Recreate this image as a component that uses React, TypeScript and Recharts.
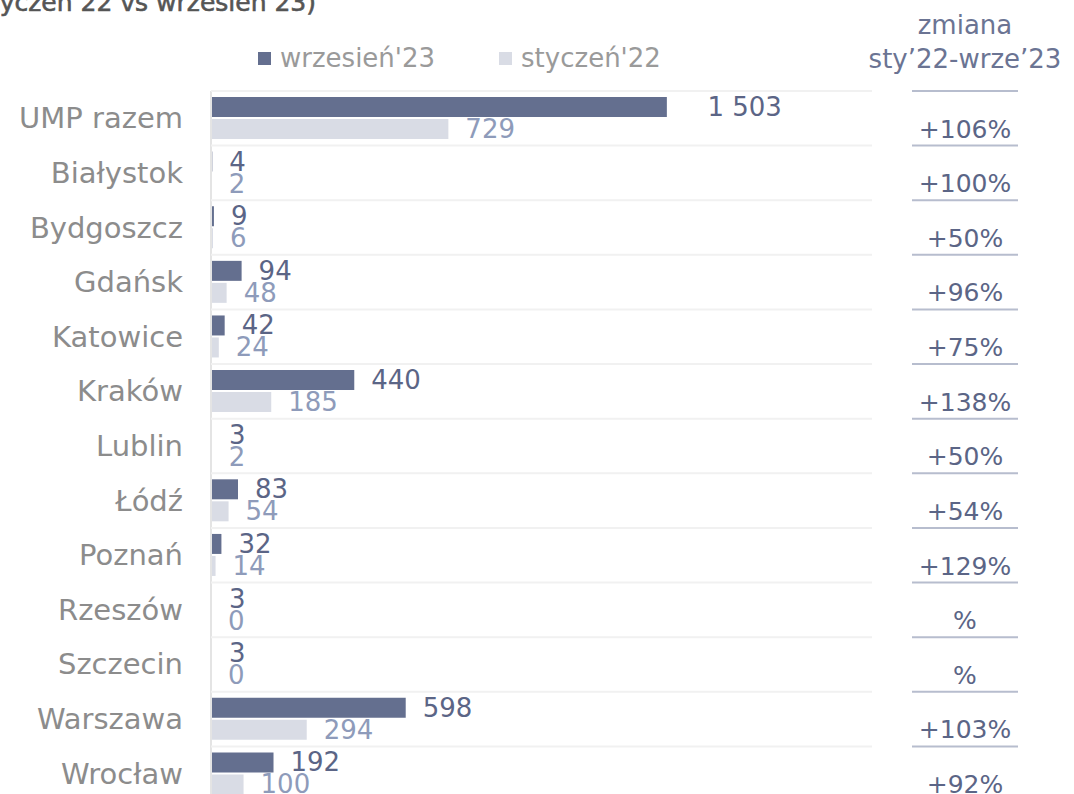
import { BarChart, Bar, XAxis, YAxis, LabelList } from 'recharts'

const CITIES = [
  'UMP razem', 'Białystok', 'Bydgoszcz', 'Gdańsk', 'Katowice', 'Kraków', 'Lublin',
  'Łódź', 'Poznań', 'Rzeszów', 'Szczecin', 'Warszawa', 'Wrocław',
]
const SEP_23 = [1503, 4, 9, 94, 42, 440, 3, 83, 32, 3, 3, 598, 192]
const JAN_22 = [729, 2, 6, 48, 24, 185, 2, 54, 14, 0, 0, 294, 100]
const SERIES = ["wrzesień'23", "styczeń'22"]
const TITLE = '(styczeń 22 vs wrzesień 23)'
const CHANGE_HEADER = ['zmiana', 'sty’22-wrze’23']

// the first bar is cut short in the original (broken axis)
const AXIS_CAP = 1400
const X_MAX = 2030

const data = CITIES.map((name, i) => ({
  name,
  sep: SEP_23[i],
  jan: JAN_22[i],
  sepBar: Math.min(SEP_23[i], AXIS_CAP),
  janBar: Math.min(JAN_22[i], AXIS_CAP),
}))

const FONT = '"DejaVu Sans", sans-serif'
const DARK = '#646f8f'
const LIGHT = '#d9dce5'
const DARK_TEXT = '#5b6586'
const LIGHT_TEXT = '#8e9bba'

const W = 1074
const H = 810
const LEFT_W = 211
const RIGHT_W = 202
const PLOT_LEFT = LEFT_W
const PLOT_RIGHT = W - RIGHT_W
const COL_CENTER = 965

function fmt(v: number) {
  return String(v).replace(/\B(?=(\d{3})+(?!\d))/g, ' ')
}

function change(now: number, before: number) {
  if (!before) return '%'
  return `+${Math.round((now / before - 1) * 100)}%`
}

// eslint-disable-next-line @typescript-eslint/no-explicit-any
function CityTick(props: any) {
  const { x, y, payload, index } = props
  const half = payload.offset || (H - 91 - 9) / CITIES.length / 2
  return (
    <g>
      <line x1={PLOT_LEFT} x2={PLOT_RIGHT} y1={y - half} y2={y - half} stroke="#f1f1f1" strokeWidth={2} />
      {index === CITIES.length - 1 && (
        <line x1={PLOT_LEFT} x2={PLOT_RIGHT} y1={y + half} y2={y + half} stroke="#f1f1f1" strokeWidth={2} />
      )}
      <text x={x} y={y} textAnchor="end" dominantBaseline="central" fill="#8c8c8c" fontSize={29} fontFamily={FONT}>
        {payload.value}
      </text>
    </g>
  )
}

// eslint-disable-next-line @typescript-eslint/no-explicit-any
function ChangeTick(props: any) {
  const { y, payload, index } = props
  const half = payload.offset || (H - 91 - 9) / CITIES.length / 2
  const i = CITIES.indexOf(payload.value)
  return (
    <g>
      {index === 0 && (
        <line x1={912} x2={1018} y1={y - half} y2={y - half} stroke="#b7bdce" strokeWidth={2} />
      )}
      <line x1={912} x2={1018} y1={y + half} y2={y + half} stroke="#b7bdce" strokeWidth={2} />
      <text x={COL_CENTER} y={y + half - 8} textAnchor="middle" fill={DARK_TEXT} fontSize={25} fontFamily={FONT}>
        {change(SEP_23[i], JAN_22[i])}
      </text>
    </g>
  )
}

function valueLabel(color: string) {
  // eslint-disable-next-line @typescript-eslint/no-explicit-any
  return (props: any) => {
    const { x, y, width, height, value } = props
    const v = Number(value)
    const lx = v > AXIS_CAP ? x + (width * v) / AXIS_CAP + 7 : x + width + 17
    return (
      <text x={lx} y={y + height / 2} dominantBaseline="central" fill={color} fontSize={26} fontFamily={FONT}>
        {fmt(v)}
      </text>
    )
  }
}

export default function App() {
  return (
    <div style={{ position: 'absolute', left: 0, top: 0, width: W, height: 794, overflow: 'hidden', background: '#fff' }}>
      <div
        style={{
          position: 'absolute', right: W - 316, top: -12, whiteSpace: 'nowrap',
          fontFamily: FONT, fontSize: 25, color: '#555555', lineHeight: '30px',
          WebkitTextStroke: '0.6px #555555',
        }}
      >
        {TITLE}
      </div>

      {/* legend */}
      <div style={{ position: 'absolute', left: 258, top: 43, display: 'flex', alignItems: 'center', fontFamily: FONT, fontSize: 26, color: '#9a9a9a' }}>
        {SERIES.map((s, i) => (
          <span key={s} style={{ display: 'flex', alignItems: 'center', marginRight: 64 }}>
            <span style={{ width: 13, height: 13, background: i === 0 ? DARK : LIGHT, marginRight: 9 }} />
            {s}
          </span>
        ))}
      </div>

      {/* change column header */}
      <div
        style={{
          position: 'absolute', left: COL_CENTER - 110, width: 220, top: 8, textAlign: 'center',
          fontFamily: FONT, fontSize: 26, color: '#6b7493', lineHeight: '34px',
        }}
      >
        {CHANGE_HEADER.map((t) => (
          <div key={t}>{t}</div>
        ))}
      </div>

      <div style={{ position: 'absolute', left: 0, top: 0 }}>
        <BarChart
          width={W}
          height={H}
          data={data}
          layout="vertical"
          margin={{ top: 91, right: 0, bottom: 9, left: 0 }}
          barCategoryGap="11%"
          barGap={2}
        >
          <XAxis type="number" domain={[0, X_MAX]} hide allowDataOverflow />
          <YAxis
            yAxisId="left"
            type="category"
            dataKey="name"
            width={LEFT_W}
            tickLine={false}
            tickSize={0}
            tickMargin={28}
            axisLine={{ stroke: '#e4e4e4', strokeWidth: 2 }}
            tick={CityTick}
            interval={0}
          />
          <YAxis
            yAxisId="right"
            orientation="right"
            type="category"
            dataKey="name"
            width={RIGHT_W}
            tickLine={false}
            tickSize={0}
            axisLine={false}
            tick={ChangeTick}
            interval={0}
          />
          <Bar yAxisId="left" dataKey="sepBar" fill={DARK} minPointSize={0.1} isAnimationActive={false}>
            <LabelList dataKey="sep" content={valueLabel(DARK_TEXT)} />
          </Bar>
          <Bar yAxisId="left" dataKey="janBar" fill={LIGHT} minPointSize={0.1} isAnimationActive={false}>
            <LabelList dataKey="jan" content={valueLabel(LIGHT_TEXT)} />
          </Bar>
        </BarChart>
      </div>
    </div>
  )
}
